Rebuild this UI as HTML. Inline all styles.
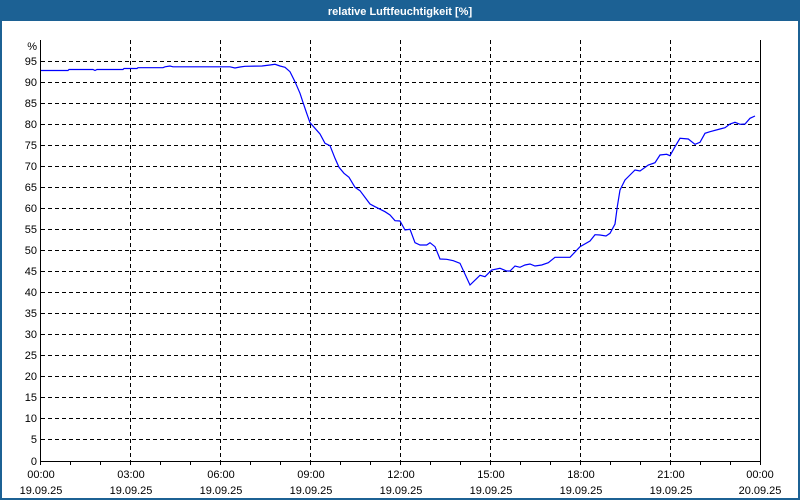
<!DOCTYPE html>
<html><head><meta charset="utf-8"><style>
html,body{margin:0;padding:0;background:#fff;}
svg{display:block;font-family:"Liberation Sans",sans-serif;}
</style></head><body>
<svg width="800" height="500" viewBox="0 0 800 500" xmlns="http://www.w3.org/2000/svg">
<rect x="0" y="0" width="800" height="500" fill="#1c6194"/>
<rect x="2" y="21" width="796" height="477" fill="#fff"/>
<text x="400" y="15" fill="#fff" font-size="11" font-weight="bold" text-anchor="middle">relative Luftfeuchtigkeit [%]</text>
<g stroke="#000" stroke-width="1" stroke-dasharray="4,3" fill="none">
<path d="M41 61.5H760M41 82.5H760M41 103.5H760M41 124.5H760M41 145.5H760M41 166.5H760M41 187.5H760M41 208.5H760M41 229.5H760M41 250.5H760M41 271.5H760M41 292.5H760M41 313.5H760M41 334.5H760M41 355.5H760M41 376.5H760M41 397.5H760M41 418.5H760M41 439.5H760"/>
<path d="M130.5 40V461M220.5 40V461M310.5 40V461M400.5 40V461M490.5 40V461M580.5 40V461M670.5 40V461"/>
</g>
<g stroke="#000" stroke-width="1" fill="none">
<path d="M40.5 40V461.5H760.5V40"/>
<path d="M40.5 461V465M70.5 461V465M100.5 461V465M130.5 461V465M160.5 461V465M190.5 461V465M220.5 461V465M250.5 461V465M280.5 461V465M310.5 461V465M340.5 461V465M370.5 461V465M400.5 461V465M430.5 461V465M460.5 461V465M490.5 461V465M520.5 461V465M550.5 461V465M580.5 461V465M610.5 461V465M640.5 461V465M670.5 461V465M700.5 461V465M730.5 461V465M760.5 461V465"/>
</g>
<g font-size="11" fill="#000" text-anchor="end">
<text x="37" y="50">%</text>
<text x="37" y="65">95</text><text x="37" y="86">90</text><text x="37" y="107">85</text><text x="37" y="128">80</text><text x="37" y="149">75</text><text x="37" y="170">70</text><text x="37" y="191">65</text><text x="37" y="212">60</text><text x="37" y="233">55</text><text x="37" y="254">50</text><text x="37" y="275">45</text><text x="37" y="296">40</text><text x="37" y="317">35</text><text x="37" y="338">30</text><text x="37" y="359">25</text><text x="37" y="380">20</text><text x="37" y="401">15</text><text x="37" y="422">10</text><text x="37" y="443">5</text><text x="37" y="465">0</text>
</g>
<g font-size="11" fill="#000" text-anchor="middle">
<text x="41" y="478">00:00</text><text x="41" y="494">19.09.25</text>
<text x="131" y="478">03:00</text><text x="131" y="494">19.09.25</text>
<text x="221" y="478">06:00</text><text x="221" y="494">19.09.25</text>
<text x="311" y="478">09:00</text><text x="311" y="494">19.09.25</text>
<text x="401" y="478">12:00</text><text x="401" y="494">19.09.25</text>
<text x="491" y="478">15:00</text><text x="491" y="494">19.09.25</text>
<text x="581" y="478">18:00</text><text x="581" y="494">19.09.25</text>
<text x="671" y="478">21:00</text><text x="671" y="494">19.09.25</text>
<text x="760" y="478">00:00</text><text x="760" y="494">20.09.25</text>
</g>
<polyline fill="none" stroke="#0000ff" stroke-width="1.2" points="41,70.5 68,70.5 69,69.5 93,69.5 95,70.5 97,69.5 123,69.5 124,68.5 137,68.5 138,67.7 163,67.7 165,66.8 170,66 173,66.8 230,66.8 235,68 240,67 245,66.3 262,66 270,65 275,64.3 280,66 285,67.3 290,71.7 295,81.7 300,93.3 303.3,103.3 306.7,113.3 310,122.7 315,128.3 320,134 325,143.3 330,145.7 335,158.3 339,167.3 344,173.3 349,177.3 355,187.3 360,190.7 370,204 375,206.7 385,211.7 390,215 395,220.7 400,221 405,230 410,229.3 415,242.7 420,245 426.7,245 430,242.7 435,246.7 440,259 446.7,259.3 453.3,260.7 460,263.3 470,285 480,275.3 485,276.7 491.7,270 500,268.3 506.7,271 510,271 515,266 520,267.3 525,265 530,264 535,266 541.7,265 548.3,262.7 555,257.3 570,257.3 580,246.7 590,241 595,234.7 600,235 606,236 610,233.3 615,224 617.3,206.7 620,190 625,180 630,175 635,170 640,171 648.3,165 655,162.7 660,155 666.7,154.3 670,155.7 675,146.7 680,138.3 688.3,139 695,144.3 700,142.3 705,133.3 710,131.7 720,129 725,127.7 730,124 735,122.3 740,124.3 745,124 750,118.3 755,116"/>
</svg>
</body></html>
